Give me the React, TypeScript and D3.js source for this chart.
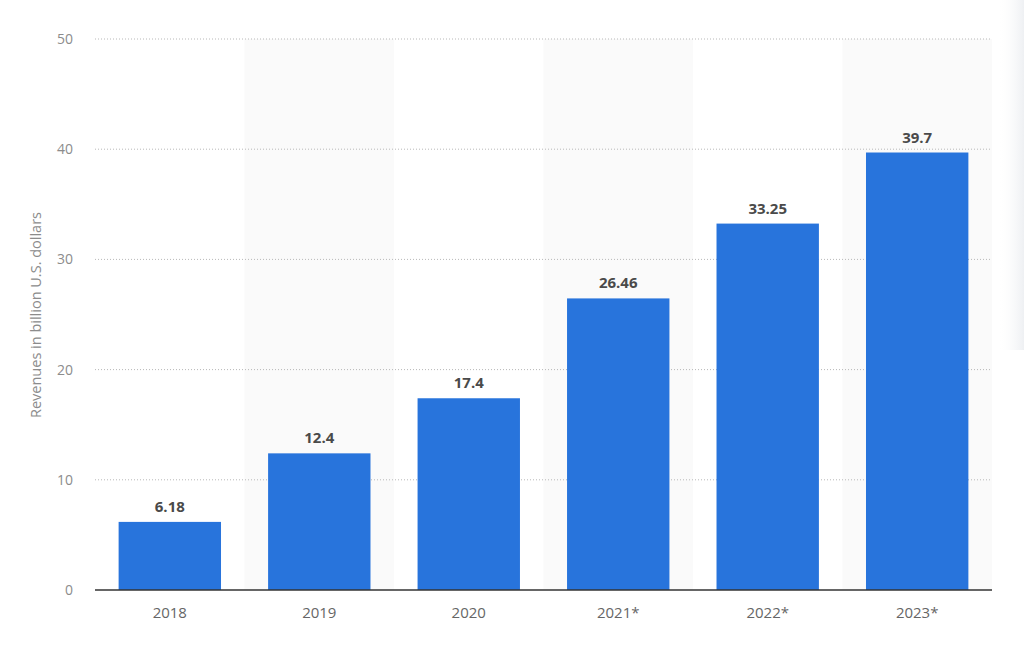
import * as React from "react";
import * as d3 from "d3";

const years = ["2018", "2019", "2020", "2021*", "2022*", "2023*"];
const revenues = [6.18, 12.4, 17.4, 26.46, 33.25, 39.7];
const valueLabels = ["6.18", "12.4", "17.4", "26.46", "33.25", "39.7"];
const yTickValues = [0, 10, 20, 30, 40, 50];
const yTitle = "Revenues in billion U.S. dollars";

const WIDTH = 1024;
const HEIGHT = 659;
const MARGIN = { top: 39, right: 32, bottom: 69, left: 95 };
const FONT = "'Open Sans', 'Noto Sans', sans-serif";

export default function App() {
  const innerW = WIDTH - MARGIN.left - MARGIN.right;
  const innerH = HEIGHT - MARGIN.top - MARGIN.bottom;

  const x = d3.scaleBand<string>().domain(years).range([0, innerW]).paddingInner(0.315).paddingOuter(0.158);
  const band = d3.scaleBand<string>().domain(years).range([0, innerW]);
  const y = d3.scaleLinear().domain([0, 50]).range([innerH, 0]);

  return (
    <div style={{ position: "fixed", left: 0, top: 0, width: WIDTH, height: HEIGHT, background: "#fff" }}>
      <svg width={WIDTH} height={HEIGHT} style={{ display: "block", fontFamily: FONT }}>
        <defs>
          <linearGradient id="edge" x1="0" x2="1" y1="0" y2="0">
            <stop offset="0" stopColor="#ffffff" stopOpacity={0} />
            <stop offset="1" stopColor="#eef0f3" />
          </linearGradient>
        </defs>
        <rect x={998} y={0} width={26} height={350} fill="url(#edge)" />

        <g transform={`translate(${MARGIN.left},${MARGIN.top})`}>
          {/* alternating column shading */}
          {years.map((yr, i) =>
            i % 2 === 1 ? (
              <rect key={`bg-${yr}`} x={band(yr)} y={0} width={band.bandwidth()} height={innerH} fill="#fafafa" />
            ) : null,
          )}

          {/* gridlines */}
          {yTickValues.filter((t) => t > 0).map((t) => (
            <line
              key={`g-${t}`}
              x1={0}
              x2={innerW}
              y1={y(t)}
              y2={y(t)}
              stroke="#b8b8b8"
              strokeWidth={1}
              strokeDasharray="1 2"
            />
          ))}

          {/* y tick labels */}
          {yTickValues.map((t) => (
            <text key={`yt-${t}`} x={-22} y={y(t)} dy="0.35em" textAnchor="end" fontSize={14} fill="#8c8c8c">
              {t}
            </text>
          ))}

          {/* bars */}
          {years.map((yr, i) => (
            <rect
              key={`bar-${yr}`}
              x={x(yr)}
              y={y(revenues[i])}
              width={x.bandwidth()}
              height={innerH - y(revenues[i])}
              fill="#2874dc"
            />
          ))}

          {/* value labels */}
          {years.map((yr, i) => (
            <text
              key={`vl-${yr}`}
              x={(x(yr) ?? 0) + x.bandwidth() / 2}
              y={y(revenues[i]) - 10}
              textAnchor="middle"
              fontSize={15}
              fontWeight={700}
              fill="#4a4a4a"
            >
              {valueLabels[i]}
            </text>
          ))}

          {/* baseline */}
          <line x1={0} x2={innerW} y1={innerH} y2={innerH} stroke="#333" strokeWidth={1.5} />

          {/* x labels */}
          {years.map((yr) => (
            <text
              key={`xl-${yr}`}
              x={(x(yr) ?? 0) + x.bandwidth() / 2}
              y={innerH + 28}
              textAnchor="middle"
              fontSize={15}
              fill="#666"
            >
              {yr}
            </text>
          ))}
        </g>

        <text
          transform={`translate(41,315) rotate(-90)`}
          textAnchor="middle"
          fontSize={14.5}
          fill="#8c8c8c"
        >
          {yTitle}
        </text>
      </svg>
    </div>
  );
}
